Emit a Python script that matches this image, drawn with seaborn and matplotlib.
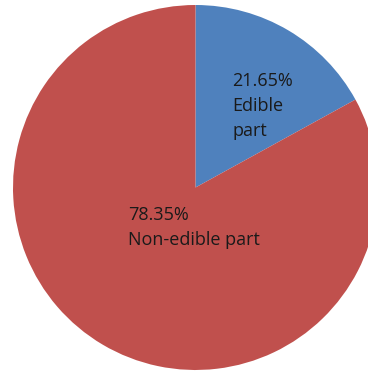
import matplotlib
matplotlib.use("Agg")
import matplotlib.pyplot as plt
import seaborn as sns

# Data
categories = ["Edible part", "Non-edible part"]
label_pct = ["21.65%", "78.35%"]
wedge_share = [17.0, 83.0]  # slice sizes as drawn in the reference
colors = ["#4F81BD", "#C0504D"]

sns.set_style("white")
plt.rcParams["font.family"] = ["Open Sans", "DejaVu Sans"]

W, H = 368, 375
fig = plt.figure(figsize=(W / 100, H / 100), dpi=100)
ax = fig.add_axes([0, 0, 1, 1])

cx, cy, R = 195.5, 187.5, 182.5  # pixel geometry
ax.pie(wedge_share, colors=colors, startangle=90, counterclock=False,
       radius=1.0, center=(0, 0), wedgeprops=dict(linewidth=0))
ax.set_xlim(-cx / R, (W - cx) / R)
ax.set_ylim(-(H - cy) / R, cy / R)
ax.set_aspect("auto")
ax.axis("off")

def px(x, y):
    return (x - cx) / R, (cy - y) / R

fs = 13
tc = "#1a1a1a"
x0, y0 = px(232, 72)
ax.text(x0, y0, label_pct[0] + "\nEdible\npart", ha="left", va="top",
        fontsize=fs, color=tc, linespacing=1.5)
x1, y1 = px(128, 206)
ax.text(x1, y1, label_pct[1] + "\nNon-edible part", ha="left", va="top",
        fontsize=fs, color=tc, linespacing=1.5)

fig.savefig("out.png", dpi=100)
